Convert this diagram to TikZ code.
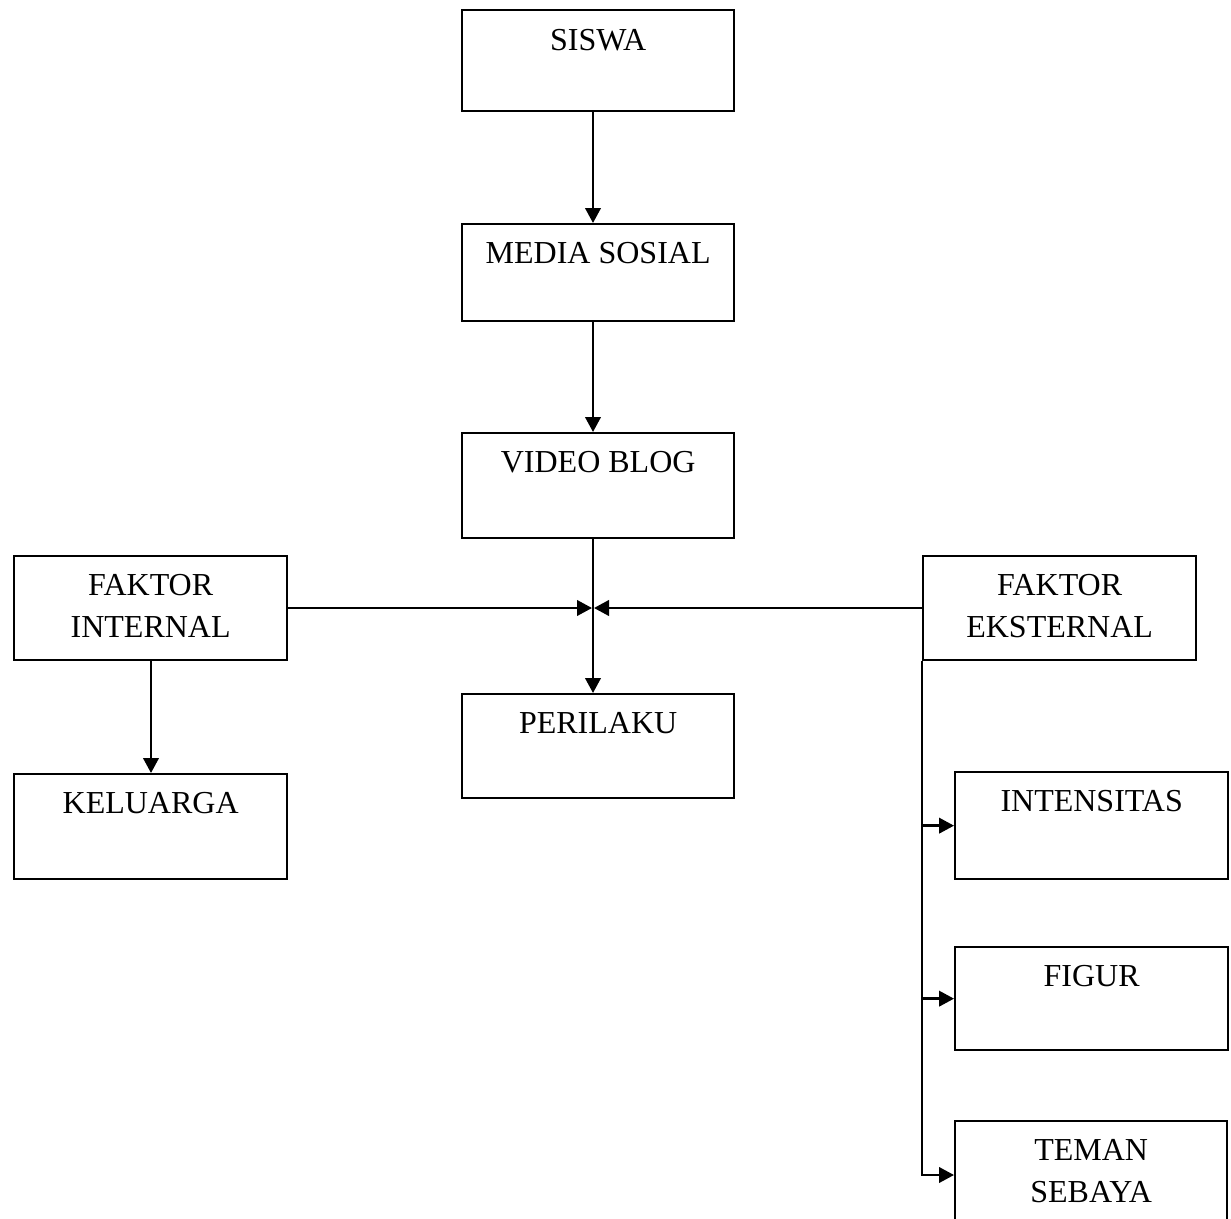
\documentclass[tikz,border=0pt]{standalone}
\usepackage{fontspec}
\setmainfont{Liberation Serif}
\usetikzlibrary{arrows.meta,positioning,calc}
\begin{document}
\begin{tikzpicture}[x=1pt,y=-1pt,
  box/.style={draw=black,line width=2.3pt,rectangle,inner sep=0pt,anchor=north west,minimum width=272pt},
  txt/.style={anchor=north,inner sep=0pt,align=center,font=\fontsize{32}{42}\selectfont},
  arr/.style={line width=2.4pt,-{Triangle[length=15pt,width=15.5pt]}}]
\clip (0,0) rectangle (1231,1218);
\fill[white] (0,0) rectangle (1231,1218);
% boxes
\node[box,minimum height=101pt] (siswa) at (461,9) {};
\node[box,minimum height=97pt] (media) at (461,223) {};
\node[box,minimum height=105pt] (video) at (461,432) {};
\node[box,minimum height=104pt] (perilaku) at (461,693) {};
\node[box,minimum width=273pt,minimum height=104pt] (fint) at (13,555) {};
\node[box,minimum width=273pt,minimum height=104pt] (fext) at (922,555) {};
\node[box,minimum width=273pt,minimum height=105pt] (keluarga) at (13,773) {};
\node[box,minimum width=273pt,minimum height=107pt] (intens) at (954,771) {};
\node[box,minimum width=273pt,minimum height=103pt] (figur) at (954,946) {};
\node[box,minimum width=272pt,minimum height=110pt] (teman) at (954,1120) {};
% texts
\node[txt] at ([yshift=-20pt]siswa.north) {SISWA};
\node[txt] at ([yshift=-19pt]media.north) {MEDIA SOSIAL};
\node[txt] at ([yshift=-19pt]video.north) {VIDEO BLOG};
\node[txt] at ([yshift=-19pt]perilaku.north) {PERILAKU};
\node[txt] at ([yshift=-19pt]fint.north) {FAKTOR\\INTERNAL};
\node[txt] at ([yshift=-19pt]fext.north) {FAKTOR\\EKSTERNAL};
\node[txt] at ([yshift=-19pt]keluarga.north) {KELUARGA};
\node[txt] at ([yshift=-19pt]intens.north) {INTENSITAS};
\node[txt] at ([yshift=-19pt]figur.north) {FIGUR};
\node[txt] at ([yshift=-19pt]teman.north) {TEMAN\\SEBAYA};
% helper coordinates
\coordinate (cx) at (593,0);
\coordinate (ix) at (151,0);
\coordinate (ex) at (922,0);
\coordinate (junc) at (593,608);
\coordinate (tb) at (922,1175);
% central column
\draw[arr] (siswa.south -| cx) -- (media.north -| cx);
\draw[arr] (media.south -| cx) -- (video.north -| cx);
\draw[arr] (video.south -| cx) -- (perilaku.north -| cx);
% side factors into junction
\draw[arr] (fint.east |- junc) -- ([xshift=-1pt]junc);
\draw[arr] (fext.west |- junc) -- ([xshift=1pt]junc);
% internal
\draw[arr] (fint.south -| ix) -- (keluarga.north -| ix);
% external
\draw[arr] (fext.south -| ex) -- (tb) -- (teman.west |- tb);
\draw[arr] (ex |- intens.west) -- (intens.west);
\draw[arr] (ex |- figur.west) -- (figur.west);
\end{tikzpicture}
\end{document}
